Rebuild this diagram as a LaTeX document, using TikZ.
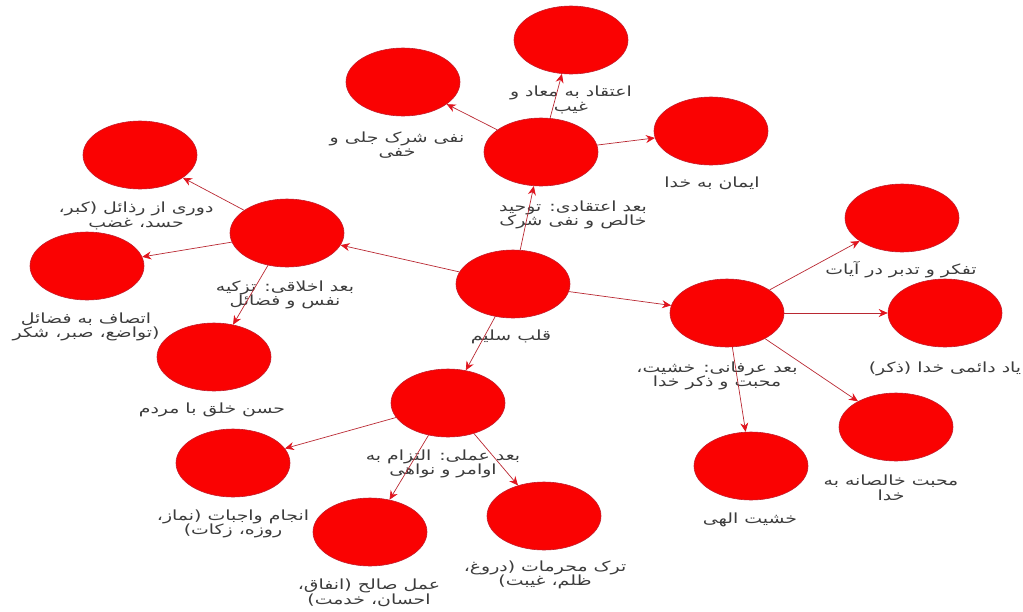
\documentclass[tikz,border=0pt]{standalone}
\usepackage{fontspec}
\newfontfamily\arabicfont[Script=Arabic,FakeStretch=1.35]{DejaVu Sans}
\TeXXeTstate=1
\usetikzlibrary{arrows.meta,shapes.geometric}
\definecolor{nodered}{RGB}{250,2,2}
\definecolor{noderim}{RGB}{195,30,45}
\definecolor{edgecol}{RGB}{185,40,50}
\definecolor{tipcol}{RGB}{225,20,30}
\definecolor{txtcol}{RGB}{60,60,60}
\newcommand{\rtltext}[1]{\beginR #1\endR}
\begin{document}
\begin{tikzpicture}[x=1pt,y=-1pt,
  circ/.style={ellipse, minimum width=114pt, minimum height=68pt, inner sep=0pt, fill=nodered, draw=noderim, line width=0.6pt},
  lbl/.style={font=\arabicfont\fontsize{14}{14.5}\selectfont, text=txtcol, align=center, inner sep=0pt},
  arr/.style={draw=edgecol, line width=0.7pt, -{Stealth[length=9pt,width=8pt,color=tipcol]}}
]
\useasboundingbox (0,0) rectangle (1023,611);
% circles
\node[circ] (q) at (513,284) {};
\node[circ] (aq) at (541,152) {};
\node[circ] (maad) at (571,40) {};
\node[circ] (nafy) at (403,82) {};
\node[circ] (iman) at (711,131) {};
\node[circ] (ak) at (287,233) {};
\node[circ] (duri) at (140,155) {};
\node[circ] (ettesaf) at (87,266) {};
\node[circ] (hosn) at (214,357) {};
\node[circ] (er) at (727,313) {};
\node[circ] (tafakkor) at (902,218) {};
\node[circ] (yad) at (945,313) {};
\node[circ] (mohabbat) at (896,427) {};
\node[circ] (khashiyat) at (751,466) {};
\node[circ] (am) at (448,403) {};
\node[circ] (vajebat) at (233,463) {};
\node[circ] (saleh) at (370,532) {};
\node[circ] (tark) at (544,516) {};
% labels
\node[lbl] (q-l) at (511,337) {\rtltext{قلب سلیم}};
\node[lbl] (aq-l) at (573,215) {\rtltext{بعد اعتقادی: توحید}\\\rtltext{خالص و نفی شرک}};
\node[lbl] (maad-l) at (571,100) {\rtltext{اعتقاد به معاد و}\\\rtltext{غیب}};
\node[lbl] (nafy-l) at (397,145) {\rtltext{نفی شرک جلی و}\\\rtltext{خفی}};
\node[lbl] (iman-l) at (712,183) {\rtltext{ایمان به خدا}};
\node[lbl] (ak-l) at (285,295) {\rtltext{بعد اخلاقی: تزکیه}\\\rtltext{نفس و فضائل}};
\node[lbl] (duri-l) at (136,216) {\rtltext{دوری از رذائل (کبر،}\\\rtltext{حسد، غضب}};
\node[lbl] (ettesaf-l) at (86,327) {\rtltext{اتصاف به فضائل}\\\rtltext{(تواضع، صبر، شکر}};
\node[lbl] (hosn-l) at (212,410) {\rtltext{حسن خلق با مردم}};
\node[lbl] (er-l) at (717,376) {\rtltext{بعد عرفانی: خشیت،}\\\rtltext{محبت و ذکر خدا}};
\node[lbl] (tafakkor-l) at (901,270) {\rtltext{تفکر و تدبر در آیات}};
\node[lbl] (yad-l) at (945,369) {\rtltext{یاد دائمی خدا (ذکر)}};
\node[lbl] (mohabbat-l) at (891,488) {\rtltext{محبت خالصانه به}\\\rtltext{خدا}};
\node[lbl] (khashiyat-l) at (750,520) {\rtltext{خشیت الهی}};
\node[lbl] (am-l) at (443,464) {\rtltext{بعد عملی: التزام به}\\\rtltext{اوامر و نواهی}};
\node[lbl] (vajebat-l) at (233,524) {\rtltext{انجام واجبات (نماز،}\\\rtltext{روزه، زکات)}};
\node[lbl] (saleh-l) at (369,593) {\rtltext{عمل صالح (انفاق،}\\\rtltext{احسان، خدمت)}};
\node[lbl] (tark-l) at (545,575) {\rtltext{ترک محرمات (دروغ،}\\\rtltext{ظلم، غیبت)}};
% edges
\draw[arr] (q) -- (aq);
\draw[arr] (q) -- (ak);
\draw[arr] (q) -- (er);
\draw[arr] (q) -- (am);
\draw[arr] (aq) -- (maad);
\draw[arr] (aq) -- (nafy);
\draw[arr] (aq) -- (iman);
\draw[arr] (ak) -- (duri);
\draw[arr] (ak) -- (ettesaf);
\draw[arr] (ak) -- (hosn);
\draw[arr] (er) -- (tafakkor);
\draw[arr] (er) -- (yad);
\draw[arr] (er) -- (mohabbat);
\draw[arr] (er) -- (khashiyat);
\draw[arr] (am) -- (vajebat);
\draw[arr] (am) -- (saleh);
\draw[arr] (am) -- (tark);
\end{tikzpicture}
\end{document}
